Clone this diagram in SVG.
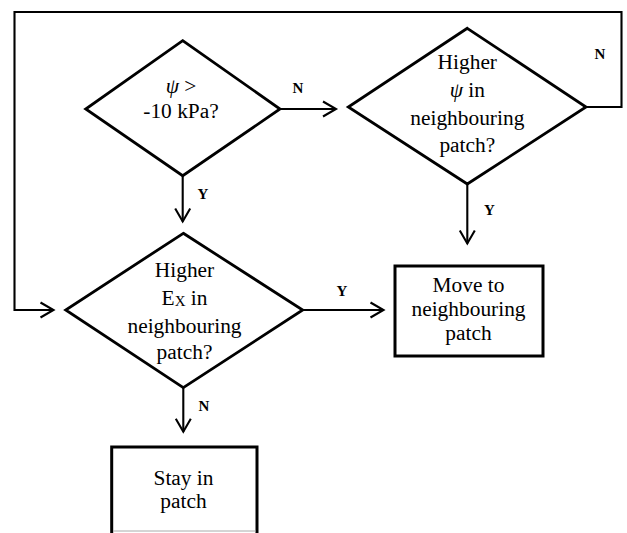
<svg xmlns="http://www.w3.org/2000/svg" width="627" height="533" viewBox="0 0 627 533">
<style>
.shape{fill:#fff;stroke:#000;stroke-width:2.8;stroke-linejoin:miter}
.box{fill:#fff;stroke:#000;stroke-width:3}
.conn{fill:none;stroke:#000;stroke-width:2.1}
.t{font-family:"Liberation Serif","Times New Roman",serif;font-size:20px;fill:#000;text-anchor:middle}
.lbl{font-family:"Liberation Serif","Times New Roman",serif;font-size:15px;font-weight:bold;fill:#000;text-anchor:middle}
</style>
<defs>
<marker id="arr" markerUnits="userSpaceOnUse" markerWidth="20" markerHeight="20" viewBox="-15 -10 20 20" refX="0" refY="0" orient="auto">
<path d="M-13,-7.5 L0,0 L-13,7.5" fill="none" stroke="#000" stroke-width="2.1"/>
</marker>
</defs>
<rect width="627" height="533" fill="#fff"/>
<g id="connectors">
<path class="conn" d="M182.7,175.7 L182.7,221.5" marker-end="url(#arr)"/>
<path class="conn" d="M280,109 L336,109" marker-end="url(#arr)"/>
<path class="conn" d="M467.3,184 L467.3,243.5" marker-end="url(#arr)"/>
<path class="conn" d="M586,107 L621.5,107 L621.5,12 L14.5,12 L14.5,310 L53.5,310" marker-end="url(#arr)"/>
<path class="conn" d="M302.7,310 L383.5,310" marker-end="url(#arr)"/>
<path class="conn" d="M183.3,387.7 L183.3,431.7" marker-end="url(#arr)"/>
<text class="lbl" x="203" y="198.5">Y</text>
<text class="lbl" x="298" y="92.5">N</text>
<text class="lbl" x="489.5" y="214.5">Y</text>
<text class="lbl" x="600" y="58.5">N</text>
<text class="lbl" x="342" y="295.5">Y</text>
<text class="lbl" x="204" y="410.5">N</text>
</g>
<g id="decision-psi">
<polygon class="shape" points="182.7,40.7 280,109 182.7,175.7 85.7,109"/>
<g transform="translate(181 0) scale(1.07 1)">
<text class="t" x="0" y="92.7"><tspan font-style="italic">ψ</tspan> &gt;</text>
<text class="t" x="0" y="118.3">-10 kPa?</text>
</g>
</g>
<g id="decision-higher-psi">
<polygon class="shape" points="467.3,28.3 586,107 467.3,184 348.3,107"/>
<g transform="translate(467.3 0) scale(1.07 1)">
<text class="t" x="0" y="69.5">Higher</text>
<text class="t" x="0" y="97.5"><tspan font-style="italic">ψ</tspan> in</text>
<text class="t" x="0" y="125.5">neighbouring</text>
<text class="t" x="0" y="152.5">patch?</text>
</g>
</g>
<g id="decision-higher-ex">
<polygon class="shape" points="183.3,233.3 302.7,310 183.3,387.7 65.7,310"/>
<g transform="translate(184.5 0) scale(1.07 1)">
<text class="t" x="0" y="277.3">Higher</text>
<text class="t" x="0" y="305">E<tspan font-size="14" dy="1.5">X</tspan><tspan dy="-1.5"> in</tspan></text>
<text class="t" x="0" y="332.7">neighbouring</text>
<text class="t" x="0" y="359.3">patch?</text>
</g>
</g>
<g id="move-box">
<rect class="box" x="395" y="266" width="148" height="90"/>
<g transform="translate(468.5 0) scale(1.07 1)">
<text class="t" x="0" y="292">Move to</text>
<text class="t" x="0" y="316.5">neighbouring</text>
<text class="t" x="0" y="340">patch</text>
</g>
</g>
<g id="stay-box">
<path d="M111.7,540 L111.7,447 L257,447 L257,540" fill="#fff" stroke="#000" stroke-width="3"/>
<line x1="113" y1="531" x2="255.5" y2="531" stroke="#aaa" stroke-width="1"/>
<g transform="translate(183.5 0) scale(1.07 1)">
<text class="t" x="0" y="485.5">Stay in</text>
<text class="t" x="0" y="508">patch</text>
</g>
</g>
</svg>
